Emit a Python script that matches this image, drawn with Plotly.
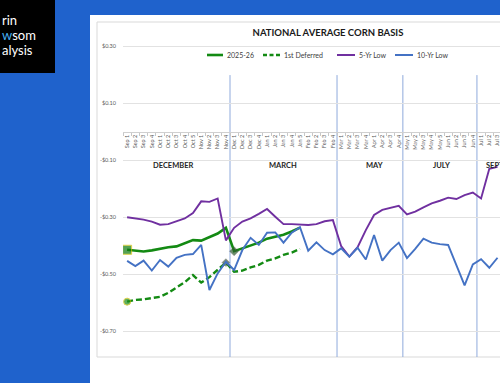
import plotly.graph_objects as go

# ---------------- data ----------------
categories = ["Sep 1","Sep 2","Sep 3","Sep 4","Oct 1","Oct 2","Oct 3","Oct 4","Oct 5",
              "Nov 1","Nov 2","Nov 3","Nov 4","Dec 1","Dec 2","Dec 3","Dec 4",
              "Jan 1","Jan 2","Jan 3","Jan 4","Jan 5","Feb 1","Feb 2","Feb 3","Feb 4",
              "Mar 1","Mar 2","Mar 3","Mar 4","Apr 1","Apr 2","Apr 3","Apr 4",
              "May 1","May 2","May 3","May 4","May 5","Jun 1","Jun 2","Jun 3","Jun 4",
              "Jul 1","Jul 2","Jul 3"]

cur_2025_26 = [-0.415,-0.418,-0.421,-0.417,-0.411,-0.406,-0.403,-0.393,-0.381,-0.383,
               -0.370,-0.358,-0.338,-0.420,-0.410,-0.401,-0.390,-0.376,-0.370,-0.362,
               -0.351,-0.337]
first_deferred = [-0.597,-0.591,-0.589,-0.585,-0.580,-0.566,-0.547,-0.529,-0.504,-0.530,
                  -0.511,-0.485,-0.460,-0.492,-0.488,-0.477,-0.468,-0.453,-0.445,-0.433,
                  -0.425,-0.412]
low_5yr = [-0.301,-0.305,-0.309,-0.316,-0.327,-0.325,-0.316,-0.305,-0.286,-0.245,
           -0.247,-0.235,-0.382,-0.338,-0.316,-0.305,-0.289,-0.272,-0.299,-0.325,
           -0.325,-0.326,-0.328,-0.325,-0.315,-0.311,-0.402,-0.439,-0.406,-0.346,
           -0.293,-0.275,-0.267,-0.261,-0.291,-0.281,-0.266,-0.252,-0.243,-0.232,
           -0.237,-0.223,-0.214,-0.235,-0.131,-0.124]
low_10yr = [-0.454,-0.472,-0.453,-0.488,-0.451,-0.474,-0.443,-0.433,-0.430,-0.398,
            -0.556,-0.498,-0.457,-0.486,-0.416,-0.373,-0.398,-0.355,-0.354,-0.390,
            -0.355,-0.336,-0.418,-0.389,-0.416,-0.431,-0.410,-0.439,-0.408,-0.449,
            -0.363,-0.453,-0.416,-0.390,-0.444,-0.412,-0.376,-0.390,-0.395,-0.398,
            -0.469,-0.540,-0.466,-0.448,-0.478,-0.443]

series_names = ["2025-26", "1st Deferred", "5-Yr Low", "10-Yr Low"]

ytick_vals = [0.30, 0.10, -0.10, -0.30, -0.50, -0.70]
ytick_text = ["$0.30", "$0.10", "-$0.10", "-$0.30", "-$0.50", "-$0.70"]

contract_labels = ["DECEMBER", "MARCH", "MAY", "JULY", "SEPT"]
contract_label_pos = [5.64, 18.9, 30.0, 38.25, 44.75]
contract_breaks = [12.5, 25.5, 33.5, 42.5]

# ---------------- layout geometry ----------------
W, H = 500, 383
L, R, T, B = 123, 0, 37, 26
PW, PH = W - L - R, H - T - B
Y0, Y1 = -0.7912, 0.3316

def px(x):
    return (x - L) / PW

def py(y):
    return (H - B - y) / PH

GREEN = "#138a13"
PURPLE = "#7030a0"
BLUE = "#4472c4"
FONT = "Lato"

fig = go.Figure()

n_cur = len(cur_2025_26)
cur_sym = ["square"] + ["circle"] * (n_cur - 1)
cur_size = [9] + [0] * (n_cur - 1)
cur_size[13] = 7
cur_sym[13] = "diamond"
cur_lc = ["#d4c000"] + ["#555555"] * (n_cur - 1)
cur_fill = ["#0c7a0c"] + ["#2f5f2f"] * (n_cur - 1)
cur_lw = [1] + [0] * (n_cur - 1)
cur_lw[13] = 0.5

fig.add_trace(go.Scatter(
    x=categories[:n_cur], y=cur_2025_26, name=series_names[0], mode="lines+markers",
    line=dict(color=GREEN, width=2.6),
    marker=dict(symbol=cur_sym, size=cur_size, color=cur_fill,
                line=dict(color=cur_lc, width=cur_lw)),
))

n_def = len(first_deferred)
def_sym = ["circle"] * n_def
def_size = [7] + [0] * (n_def - 1)
def_size[12] = 6
def_sym[12] = "diamond"
def_fill = ["#1b8c1b"] + ["#3d5f3d"] * (n_def - 1)
def_lc = ["#d4c000"] + ["#555555"] * (n_def - 1)
def_lw = [1] + [0] * (n_def - 1)
def_lw[12] = 0.5

fig.add_trace(go.Scatter(
    x=categories[:n_def], y=first_deferred, name=series_names[1], mode="lines+markers",
    line=dict(color=GREEN, width=2.4, dash="6px,3px"),
    marker=dict(symbol=def_sym, size=def_size, color=def_fill,
                line=dict(color=def_lc, width=def_lw)),
))

fig.add_trace(go.Scatter(
    x=categories[:len(low_5yr)], y=low_5yr, name=series_names[2], mode="lines",
    line=dict(color=PURPLE, width=1.9),
))
fig.add_trace(go.Scatter(
    x=categories[:len(low_10yr)], y=low_10yr, name=series_names[3], mode="lines",
    line=dict(color=BLUE, width=1.9),
))

shapes = [
    # white card
    dict(type="rect", xref="paper", yref="paper", x0=px(90), x1=px(520), y0=py(400), y1=py(15),
         fillcolor="white", line=dict(width=0), layer="below"),
    # inner chart border
    dict(type="rect", xref="paper", yref="paper", x0=px(97), x1=px(520), y0=py(357), y1=py(22),
         fillcolor="rgba(0,0,0,0)", line=dict(color="#d9d9d9", width=1), layer="below"),
    # logo box
    dict(type="rect", xref="paper", yref="paper", x0=px(-5), x1=px(55), y0=py(73), y1=py(-5),
         fillcolor="black", line=dict(width=0), layer="below"),
]
for b in contract_breaks:
    shapes.append(dict(type="line", xref="x", yref="y", x0=b, x1=b, y0=Y0, y1=0.198,
                       line=dict(color="#8faadc", width=1), layer="below"))

# legend (drawn manually to match the compact spreadsheet legend)
leg_y = py(55)
leg_items = [
    (207, 223, 225, dict(color=GREEN, width=2.6)),
    (263, 280, 282, dict(color=GREEN, width=2.4, dash="4px,2.5px")),
    (337, 355, 357, dict(color=PURPLE, width=2)),
    (395, 413, 415, dict(color=BLUE, width=2)),
]
annotations = []
for name, (lx0, lx1, tx, ln) in zip(series_names, leg_items):
    shapes.append(dict(type="line", xref="paper", yref="paper", x0=px(lx0), x1=px(lx1),
                       y0=leg_y, y1=leg_y, line=ln))
    annotations.append(dict(x=px(tx), y=leg_y, xref="paper", yref="paper", text=name,
                            xanchor="left", yanchor="middle", showarrow=False,
                            font=dict(family=FONT, size=7, color="#404040")))

for lab, pos in zip(contract_labels, contract_label_pos):
    annotations.append(dict(x=pos, y=-0.121, xref="x", yref="y", text="<b>%s</b>" % lab,
                            showarrow=False, font=dict(family=FONT, size=7.5, color="#262626")))

logo_lines = ["rin", "<span style='color:#45aef2'>w</span>som", "alysis"]
logo_y = [20, 35, 50]
for t, yy in zip(logo_lines, logo_y):
    annotations.append(dict(x=px(0), y=py(yy), xref="paper", yref="paper", text=t,
                            xanchor="left", yanchor="middle", showarrow=False,
                            font=dict(family=FONT, size=13, color="white")))

fig.update_layout(
    width=W, height=H,
    margin=dict(l=L, r=R, t=T, b=B, pad=0),
    paper_bgcolor="#1f62cc",
    plot_bgcolor="rgba(0,0,0,0)",
    title=dict(text="<b>NATIONAL AVERAGE CORN BASIS</b>", x=328 / W, xanchor="center",
               y=1 - 33 / H, yanchor="middle", font=dict(family=FONT, size=9.5, color="#1a1a1a")),
    showlegend=False,
    shapes=shapes,
    annotations=annotations,
    xaxis=dict(type="category", categoryorder="array", categoryarray=categories,
               range=[-0.5, 45.3], anchor="free", position=(0 - Y0) / (Y1 - Y0),
               showgrid=False, zeroline=False, showline=True, linecolor="#d0d0d0", linewidth=1,
               ticks="outside", ticklen=3, tickcolor="#c8c8c8", tickson="boundaries",
               tickangle=-90, dtick=1, tickfont=dict(family=FONT, size=5.5, color="#595959")),
    yaxis=dict(range=[Y0, Y1], tickmode="array", tickvals=ytick_vals, ticktext=ytick_text,
               showgrid=True, gridcolor="#e2e2e2", gridwidth=1, zeroline=False,
               showline=False, ticks="", ticklabelstandoff=6,
               tickfont=dict(family=FONT, size=5.5, color="#595959")),
)

fig.write_html("out.html", config={"displayModeBar": False},
               post_script="document.body.style.margin='0px';document.body.style.overflow='hidden';")
